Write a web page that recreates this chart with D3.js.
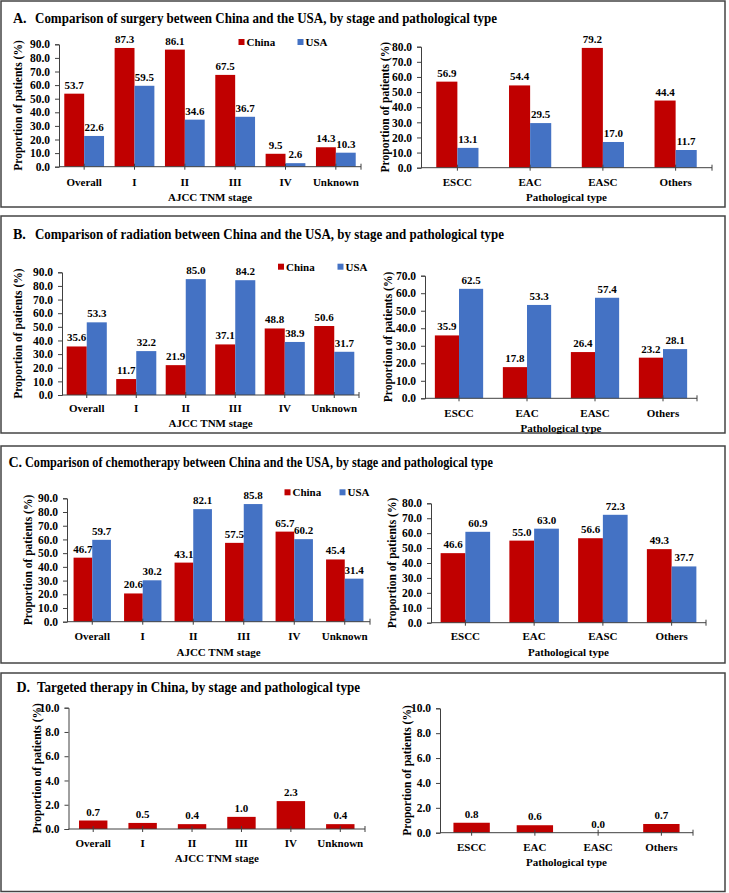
<!DOCTYPE html>
<html>
<head lang="en">
    <meta charset="UTF-8">
    <title>China vs USA treatment</title>
    <script src="https://d3js.org/d3.v7.min.js" charset="utf-8"></script>
    <style type="text/css">
        body { margin: 0; background: #fff; }
        text { font-family: "Liberation Serif", "Times New Roman", serif; font-weight: bold; fill: #000; }
    </style>
</head>
<body>
<svg id="svg" width="729" height="893"></svg>
<script>
    // categories
    var stages = ["Overall", "I", "II", "III", "IV", "Unknown"];
    var types = ["ESCC", "EAC", "EASC", "Others"];
    var seriesNames = ["China", "USA"];

    // A. surgery
    var surgeryStageChina = [53.7, 87.3, 86.1, 67.5, 9.5, 14.3];
    var surgeryStageUSA = [22.6, 59.5, 34.6, 36.7, 2.6, 10.3];
    var surgeryTypeChina = [56.9, 54.4, 79.2, 44.4];
    var surgeryTypeUSA = [13.1, 29.5, 17.0, 11.7];

    // B. radiation
    var radiationStageChina = [35.6, 11.7, 21.9, 37.1, 48.8, 50.6];
    var radiationStageUSA = [53.3, 32.2, 85.0, 84.2, 38.9, 31.7];
    var radiationTypeChina = [35.9, 17.8, 26.4, 23.2];
    var radiationTypeUSA = [62.5, 53.3, 57.4, 28.1];

    // C. chemotherapy
    var chemoStageChina = [46.7, 20.6, 43.1, 57.5, 65.7, 45.4];
    var chemoStageUSA = [59.7, 30.2, 82.1, 85.8, 60.2, 31.4];
    var chemoTypeChina = [46.6, 55.0, 56.6, 49.3];
    var chemoTypeUSA = [60.9, 63.0, 72.3, 37.7];

    // D. targeted therapy (China only)
    var targetedStageChina = [0.7, 0.5, 0.4, 1.0, 2.3, 0.4];
    var targetedTypeChina = [0.8, 0.6, 0.0, 0.7];

    // y axis ticks
    var ticks90 = [0, 10, 20, 30, 40, 50, 60, 70, 80, 90];
    var ticks80 = [0, 10, 20, 30, 40, 50, 60, 70, 80];
    var ticks70 = [0, 10, 20, 30, 40, 50, 60, 70];
    var ticks10 = [0, 2, 4, 6, 8, 10];

    var titleLetters = ["A.", "B.", "C.", "D."];
    var titleTexts = [
        "Comparison of surgery  between China and the USA, by stage and pathological type",
        "Comparison of radiation between China and the USA, by stage and pathological type",
        "Comparison of chemotherapy between China and the USA, by stage and pathological type",
        "Targeted therapy in China, by stage and pathological type"
    ];

    var red = "#C00000", blue = "#4472C4", axisColor = "#404040";

    var svg = d3.select("svg");

    // panel boxes and titles
    var boxes = [
        {y0: 1, y1: 207, tx: 13, tx2: 35, tw: 462, ty: 18},
        {y0: 216, y1: 433, tx: 13, tx2: 35, tw: 469, ty: 234.3},
        {y0: 446, y1: 663, tx: 8.5, tx2: 25, tw: 468, ty: 461.7},
        {y0: 673, y1: 891.5, tx: 16.5, tx2: 37, tw: 323, ty: 686.7}
    ];

    boxes.forEach(function (b, i) {
        svg.append("rect")
            .attr("x", 1).attr("y", b.y0)
            .attr("width", 724).attr("height", b.y1 - b.y0)
            .attr("fill", "none").attr("stroke", "#444").attr("stroke-width", 1.5);
        svg.append("text").attr("x", b.tx).attr("y", b.ty).attr("dy", "0.35em")
            .style("font-size", "14px").text(titleLetters[i]);
        svg.append("text").attr("x", b.tx2).attr("y", b.ty).attr("dy", "0.35em")
            .attr("textLength", b.tw).attr("lengthAdjust", "spacingAndGlyphs")
            .style("font-size", "14px").text(titleTexts[i]);
    });

    function drawChart(o) {
        var g = svg.append("g");
        var series = o.series;

        var x0 = d3.scaleBand().domain(o.categories).range([o.x0, o.x1]);
        var bw = x0.bandwidth();
        var inner = (1 - o.frac) / 2 * bw;
        var x1 = d3.scaleBand().domain(d3.range(series.length)).range([inner, bw - inner]);
        var y = d3.scaleLinear().domain([0, o.max]).range([o.yBot, o.yTop]);

        // bars
        series.forEach(function (s, si) {
            g.selectAll(null).data(s.values).enter().append("rect")
                .attr("x", function (d, i) { return x0(o.categories[i]) + x1(si); })
                .attr("y", function (d) { return y(d); })
                .attr("width", x1.bandwidth())
                .attr("height", function (d) { return y(0) - y(d); })
                .attr("fill", s.color);
        });

        // y axis
        var yAxis = d3.axisLeft(y).tickValues(o.ticks).tickSize(4).tickPadding(5)
            .tickFormat(d3.format(".1f"));
        var ya = g.append("g").attr("transform", "translate(" + o.x0 + ",0)").call(yAxis);
        ya.select(".domain").attr("stroke", axisColor);
        ya.selectAll(".tick line").attr("stroke", axisColor);
        ya.selectAll(".tick text").style("font-size", "11.5px")
            .style("font-family", "Liberation Serif").style("font-weight", "bold").attr("fill", "#000");

        // x axis line with small ticks at category centres
        g.append("line").attr("x1", o.x0).attr("x2", o.x1)
            .attr("y1", y(0)).attr("y2", y(0)).attr("stroke", axisColor);
        g.selectAll(null).data(o.categories).enter().append("line")
            .attr("x1", function (d) { return x0(d) + bw / 2; })
            .attr("x2", function (d) { return x0(d) + bw / 2; })
            .attr("y1", y(0) - 3).attr("y2", y(0) + 3)
            .attr("stroke", axisColor);
        g.append("line").attr("x1", o.x1).attr("x2", o.x1)
            .attr("y1", y(0) - 3).attr("y2", y(0) + 3).attr("stroke", axisColor);

        // category labels
        g.selectAll(null).data(o.categories).enter().append("text")
            .attr("x", function (d) { return x0(d) + bw / 2; })
            .attr("y", o.labelY).attr("dy", "0.35em")
            .attr("text-anchor", "middle").style("font-size", "11px")
            .text(function (d) { return d; });

        // value labels
        series.forEach(function (s, si) {
            g.selectAll(null).data(s.values).enter().append("text")
                .attr("x", function (d, i) { return x0(o.categories[i]) + x1(si) + x1.bandwidth() / 2; })
                .attr("y", function (d) { return y(d) - 5; })
                .attr("text-anchor", "middle").style("font-size", "11px")
                .text(function (d) { return d.toFixed(1); });
        });

        // axis titles
        g.append("text").attr("x", (o.x0 + o.x1) / 2).attr("y", o.titleY).attr("dy", "0.35em")
            .attr("text-anchor", "middle").style("font-size", "11px").text(o.xTitle);
        g.append("text")
            .attr("transform", "translate(" + o.yTitleX + "," + (o.yTop + o.yBot) / 2 + ") rotate(-90)")
            .attr("dy", "0.35em").attr("text-anchor", "middle").style("font-size", "11.5px")
            .text("Proportion of patients (%)");

        // legend
        if (o.legend) {
            series.forEach(function (s, si) {
                var lx = o.legend.x[si];
                g.append("rect").attr("x", lx).attr("y", o.legend.y - 3)
                    .attr("width", 6).attr("height", 6).attr("fill", s.color);
                g.append("text").attr("x", lx + 8).attr("y", o.legend.y).attr("dy", "0.35em")
                    .style("font-size", "11px").text(seriesNames[si]);
            });
        }
    }

    function pair(china, usa) {
        return [{values: china, color: red}, {values: usa, color: blue}];
    }

    // A
    drawChart({categories: stages, series: pair(surgeryStageChina, surgeryStageUSA),
        x0: 59, x1: 361, yTop: 44.3, yBot: 166.7, max: 90, ticks: ticks90, frac: 0.79,
        labelY: 182, titleY: 197, xTitle: "AJCC TNM stage", yTitleX: 18,
        legend: {x: [238.5, 297.5], y: 42}});
    drawChart({categories: types, series: pair(surgeryTypeChina, surgeryTypeUSA),
        x0: 421, x1: 712, yTop: 46.7, yBot: 167.7, max: 80, ticks: ticks80, frac: 0.58,
        labelY: 182, titleY: 197, xTitle: "Pathological type", yTitleX: 385});

    // B
    drawChart({categories: stages, series: pair(radiationStageChina, radiationStageUSA),
        x0: 62, x1: 359, yTop: 272.3, yBot: 395, max: 90, ticks: ticks90, frac: 0.81,
        labelY: 408.3, titleY: 423.3, xTitle: "AJCC TNM stage", yTitleX: 18,
        legend: {x: [278, 337.5], y: 266.7}});
    drawChart({categories: types, series: pair(radiationTypeChina, radiationTypeUSA),
        x0: 425, x1: 697, yTop: 275.7, yBot: 398.3, max: 70, ticks: ticks70, frac: 0.71,
        labelY: 412.7, titleY: 427.7, xTitle: "Pathological type", yTitleX: 388.3});

    // C
    drawChart({categories: stages, series: pair(chemoStageChina, chemoStageUSA),
        x0: 67, x1: 370, yTop: 498.3, yBot: 621.7, max: 90, ticks: ticks90, frac: 0.74,
        labelY: 636, titleY: 651.7, xTitle: "AJCC TNM stage", yTitleX: 28.3,
        legend: {x: [284.5, 339.5], y: 492.3}});
    drawChart({categories: types, series: pair(chemoTypeChina, chemoTypeUSA),
        x0: 431, x1: 706, yTop: 503.3, yBot: 622.7, max: 80, ticks: ticks80, frac: 0.72,
        labelY: 635.7, titleY: 651.7, xTitle: "Pathological type", yTitleX: 391.7});

    // D
    drawChart({categories: stages, series: [{values: targetedStageChina, color: red}],
        x0: 68.5, x1: 365, yTop: 707.7, yBot: 829, max: 10, ticks: ticks10, frac: 0.575,
        labelY: 842.7, titleY: 858.3, xTitle: "AJCC TNM stage", yTitleX: 37.3});
    drawChart({categories: types, series: [{values: targetedTypeChina, color: red}],
        x0: 440, x1: 693, yTop: 708.3, yBot: 832.7, max: 10, ticks: ticks10, frac: 0.575,
        labelY: 846.7, titleY: 861.7, xTitle: "Pathological type", yTitleX: 406.7});
</script>
</body>
</html>
